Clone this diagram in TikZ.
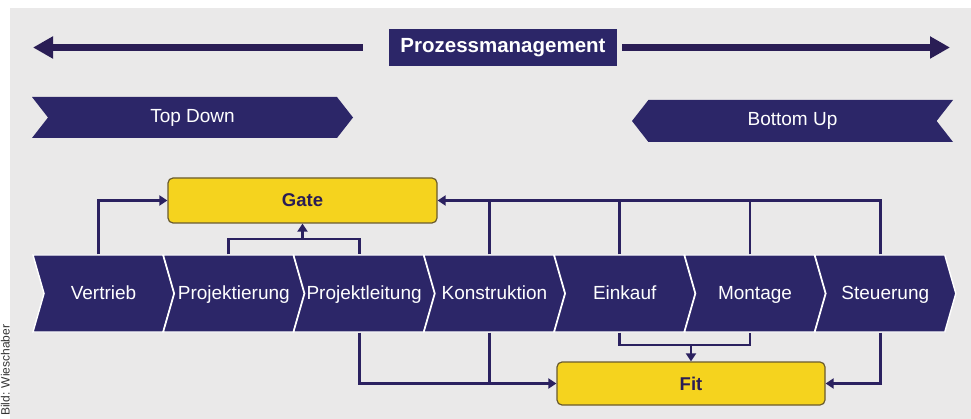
\documentclass[tikz,border=0pt]{standalone}
\usepackage{fontspec}
\setmainfont{Liberation Sans}
\usetikzlibrary{arrows.meta,shapes.symbols}
\definecolor{pmnavy}{HTML}{2C2668}
\definecolor{pmdark}{HTML}{2A1D55}
\definecolor{pmline}{HTML}{2B2160}
\definecolor{pmyellow}{HTML}{F5D31E}
\definecolor{pmolive}{HTML}{6A5B2E}
\definecolor{pmgray}{HTML}{EAE9E9}
\begin{document}
\begin{tikzpicture}[x=1pt,y=-1pt,
  chev/.style={shape=signal,signal from=west,signal to=east,signal pointer angle=148,
               fill=pmnavy,draw=white,line width=1.4pt,
               minimum width=141pt,minimum height=77pt,inner sep=0pt,
               text height=15pt,text depth=3pt,
               text=white,font=\fontsize{19}{22}\selectfont},
  band/.style={shape=signal,signal pointer angle=104,fill=pmnavy,
               minimum width=321pt,minimum height=41pt,inner sep=0pt,
               text height=14pt,text depth=4pt,
               text=white,font=\fontsize{19}{22}\selectfont},
  gatebox/.style={draw=pmolive,fill=pmyellow,line width=1.2pt,rounded corners=5pt,
                  text=pmdark,font=\bfseries\fontsize{18.5}{22}\selectfont},
  link/.style={draw=pmline,line width=2.8pt},
  arr/.style={link,-{Triangle[length=8pt,width=10pt]}},
  bigarr/.style={draw=pmdark,line width=7pt,-{Triangle[length=20pt,width=21pt]}}]
\fill[white] (0,0) rectangle (971,419);
\fill[pmgray] (10,8) rectangle (971,419);
\useasboundingbox (0,0) rectangle (971,419);
\node[rotate=90,anchor=base west,inner sep=0pt,text=black!80,
      font=\fontsize{12}{14}\selectfont] (credit) at (9.5,416) {Bild: Wieschaber};
% Prozessmanagement
\node[fill=pmnavy,text=white,font=\bfseries\fontsize{20.5}{24}\selectfont,
      minimum width=228pt,minimum height=37pt,inner sep=0pt] (pm) at (503,47.5) {Prozessmanagement};
\coordinate (pmL) at (33,47.5);
\coordinate (pmR) at (950,47.5);
\draw[bigarr,shorten <=26pt] (pm.west) -- (pmL);
\draw[bigarr,shorten <=5pt] (pm.east) -- (pmR);
\node[band,signal from=west,signal to=east] (td) at (192.5,117.5) {Top Down};
\node[band,signal from=east,signal to=west,minimum height=42pt] (bu) at (792.5,121) {Bottom Up};
% Prozesskette
\foreach \n/\t [count=\i from 0] in {V/Vertrieb,Pj/Projektierung,PL/Projektleitung,
    K/Konstruktion,E/Einkauf,M/Montage,S/Steuerung}{
  \node[chev] (\n) at (103.5+130.3*\i,293.5) {\t};
  \coordinate (\n-t) at ([xshift=-5pt]\n.north);
  \coordinate (\n-b) at ([xshift=-5pt]\n.south);
}
\node[gatebox,minimum width=269pt,minimum height=45pt] (G) at (302.5,200.5) {Gate};
\node[gatebox,minimum width=268pt,minimum height=43pt] (F) at (691,383.5) {Fit};
\coordinate (gj) at (302.5,239);
\coordinate (fj) at (691,345);
% nach oben
\draw[arr] (V-t) |- (G.west);
\draw[link] (Pj-t) |- (gj) -| (PL-t);
\draw[arr] (gj) -- (G.south);
\draw[arr] (S-t) |- (G.east);
\foreach \n in {K,E,M} \draw[link] (\n-t) -- (\n-t |- G.east);
% nach unten
\draw[arr] (PL-b) |- (F.west);
\draw[link] (K-b) -- (K-b |- F.west);
\draw[link] (E-b) |- (fj) -| (M-b);
\draw[arr] (fj) -- (F.north);
\draw[arr] (S-b) |- (F.east);
\end{tikzpicture}
\end{document}
